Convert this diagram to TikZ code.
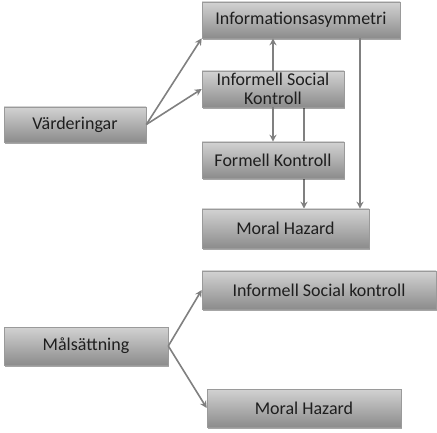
\documentclass[tikz,border=0pt]{standalone}
\usepackage{fontspec}
\setmainfont{Carlito}
\usetikzlibrary{arrows.meta,shadows,backgrounds,calc}
\definecolor{boxtop}{HTML}{D2D2D2}
\definecolor{boxbot}{HTML}{8C8C8C}
\definecolor{boxline}{HTML}{9A9A9A}
\definecolor{arrowc}{HTML}{808080}
\definecolor{txt}{HTML}{1E1E1E}
\tikzset{
  box/.style={draw=boxline, line width=0.6pt, top color=boxtop, bottom color=boxbot,
    inner sep=0pt, align=center, text=txt,
    font=\fontsize{18}{19}\selectfont,
    drop shadow={shadow xshift=1.2pt, shadow yshift=-1.8pt, opacity=0.35, fill=black}},
  conn/.style={draw=arrowc, line width=1.6pt},
  arr/.style={conn, -{Stealth[length=7pt,width=7pt]}},
}
\begin{document}
\begin{tikzpicture}[x=1pt,y=-1pt]
\useasboundingbox (0,0) rectangle (437,433);
\node[box, minimum width=198pt, minimum height=36pt] (info) at (301,20) {Informationsasymmetri};
\node[box, minimum width=142pt, minimum height=36pt] (isk) at (273,89) {Informell Social\\Kontroll};
\node[box, minimum width=142pt, minimum height=35pt] (vard) at (75,124.5) {Värderingar};
\node[box, minimum width=142pt, minimum height=36pt] (fk) at (273,160) {Formell Kontroll};
\node[box, minimum width=167pt, minimum height=39pt] (mh) at (285.5,228.5) {Moral Hazard};
\node[box, minimum width=234pt, minimum height=38pt] (isk2) at (319,290) {Informell Social kontroll};
\node[box, minimum width=164pt, minimum height=38pt] (mal) at (86,346) {Målsättning};
\node[box, minimum width=194pt, minimum height=38pt] (mh2) at (304,408) {Moral Hazard};

\begin{scope}[on background layer]
  \fill[white] (0,0) rectangle (437,433);
  \coordinate (a) at ([xshift=31pt]isk.south);
  \draw[arr] (a) -- (a |- mh.north);
\end{scope}
\draw[arr] (vard.east) -- (info.south west);
\draw[arr] (vard.east) -- (isk.west);
\draw[arr] (isk.north) -- (isk.north |- info.south);
\draw[arr] (isk.south) -- (fk.north);
\coordinate (b) at ([xshift=59pt]info.south);
\draw[arr] (b) -- (b |- mh.north);
\draw[arr] (mal.east) -- (isk2.west);
\draw[arr] (mal.east) -- (mh2.west);
\end{tikzpicture}
\end{document}
